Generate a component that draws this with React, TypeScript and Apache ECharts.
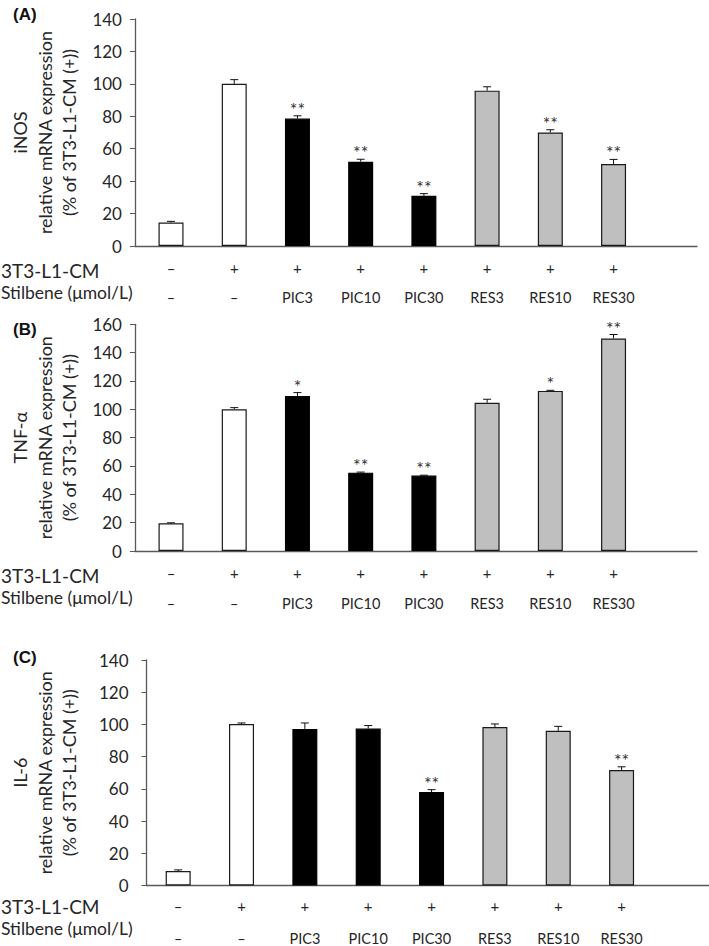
import React, { useEffect, useRef } from "react";
import * as echarts from "echarts";

// ---- data ----
const cmRow = ["–", "+", "+", "+", "+", "+", "+", "+"];
const stilbeneRow = ["–", "–", "PIC3", "PIC10", "PIC30", "RES3", "RES10", "RES30"];
const barGroup = ["white", "white", "black", "black", "black", "gray", "gray", "gray"];

const inosMean = [14.5, 100, 78.6, 52, 31, 95.8, 70, 50.6];
const inosErr = [0.7, 2.6, 1.7, 1.5, 1.3, 2.4, 1.7, 2.8];
const inosSig = ["", "", "**", "**", "**", "", "**", "**"];

const tnfMean = [19.5, 100, 109.4, 55.3, 53.2, 104.6, 113, 150];
const tnfErr = [0.4, 1.2, 2.4, 0.4, 0.3, 2.5, 0.4, 2.8];
const tnfSig = ["", "", "*", "**", "**", "", "*", "**"];

const il6Mean = [9, 100.2, 97.2, 97.4, 58, 98.4, 96, 71.7];
const il6Err = [0.7, 0.7, 3.7, 1.9, 1.5, 1.9, 2.8, 2];
const il6Sig = ["", "", "", "", "**", "", "", "**"];

const idx = [0, 1, 2, 3, 4, 5, 6, 7];
const FONT = "Lato";
const TXT = "#262626";
const AXIS = "#595959";

const panels = [
  { tag: "(A)", tagY: 15, yName: "iNOS\nrelative mRNA expression\n(% of 3T3-L1-CM (+))", mean: inosMean, err: inosErr, sig: inosSig, yMax: 140, left: 128, top: 19, height: 227, xMin: -0.57, xMax: 8.32, labelMargin: 13, nameGap: 53, r1: 22, r2: 51, t1: 270, t2: 292 },
  { tag: "(B)", tagY: 330, yName: "TNF-α\nrelative mRNA expression\n(% of 3T3-L1-CM (+))", mean: tnfMean, err: tnfErr, sig: tnfSig, yMax: 160, left: 128, top: 324.3, height: 226.7, xMin: -0.57, xMax: 8.32, labelMargin: 13, nameGap: 53, r1: 22, r2: 52, t1: 575, t2: 597 },
  { tag: "(C)", tagY: 658, yName: "IL-6\nrelative mRNA expression\n(% of 3T3-L1-CM (+))", mean: il6Mean, err: il6Err, sig: il6Sig, yMax: 140, left: 140, top: 660, height: 226.7, xMin: -0.5, xMax: 8.38, labelMargin: 18, nameGap: 65, r1: 20, r2: 53, t1: 906, t2: 928 },
];

function barStyle(g: string) {
  if (g === "black") return { color: "#000", borderColor: "#000", borderWidth: 1.2 };
  if (g === "gray") return { color: "#bfbfbf", borderColor: "#1a1a1a", borderWidth: 1.2 };
  return { color: "#fff", borderColor: "#1a1a1a", borderWidth: 1.2 };
}

export default function App() {
  const ref = useRef<HTMLDivElement>(null);
  useEffect(() => {
    if (!ref.current) return;
    const chart = echarts.init(ref.current, undefined, { renderer: "svg" });
    const grid: any[] = [];
    const xAxis: any[] = [];
    const yAxis: any[] = [];
    const series: any[] = [];
    const graphic: any[] = [];
    panels.forEach((p, pi) => {
      grid.push({ left: p.left, top: p.top, width: 569, height: p.height });
      const common = {
        type: "value",
        gridIndex: pi,
        min: p.xMin,
        max: p.xMax,
        position: "bottom",
        splitLine: { show: false },
        axisTick: { show: false },
      };
      xAxis.push({
        ...common,
        axisLine: { show: true, onZero: false, lineStyle: { color: AXIS, width: 1.3 } },
        axisLabel: {
          customValues: idx,
          formatter: (v: number) => cmRow[Math.round(v)] ?? "",
          margin: p.r1,
          verticalAlign: "middle",
          fontFamily: FONT,
          fontSize: 15,
          color: TXT,
        },
      });
      xAxis.push({
        ...common,
        axisLine: { show: false, onZero: false },
        axisLabel: {
          customValues: idx,
          formatter: (v: number) => stilbeneRow[Math.round(v)] ?? "",
          margin: p.r2,
          verticalAlign: "middle",
          fontFamily: FONT,
          fontSize: 14.5,
          color: TXT,
        },
      });
      yAxis.push({
        type: "value",
        gridIndex: pi,
        min: 0,
        max: p.yMax,
        interval: 20,
        splitLine: { show: false },
        axisLine: { show: true, onZero: false, lineStyle: { color: AXIS, width: 1.3 } },
        axisTick: { show: true, length: 5, lineStyle: { color: AXIS } },
        axisLabel: { margin: p.labelMargin, fontFamily: FONT, fontSize: 17, color: TXT },
        name: p.yName,
        nameLocation: "middle",
        nameRotate: 90,
        nameGap: p.nameGap,
        nameTextStyle: { fontFamily: FONT, fontSize: 18, lineHeight: 24.5, color: TXT, align: "center" },
      });
      series.push({
        type: "bar",
        xAxisIndex: pi * 2,
        yAxisIndex: pi,
        barWidth: 25,
        data: p.mean.map((m, i) => ({ value: [i, m], itemStyle: barStyle(barGroup[i]) })),
      });
      const sig = p.sig;
      series.push({
        type: "custom",
        xAxisIndex: pi * 2,
        yAxisIndex: pi,
        data: p.mean.map((m, i) => [i, m, p.err[i]]),
        renderItem: (params: any, api: any) => {
          const x = api.value(0);
          const m = api.value(1);
          const e = api.value(2);
          const base = api.coord([x, m]);
          const top = api.coord([x, m + e]);
          const s = sig[params.dataIndex];
          const children: any[] = [
            { type: "line", shape: { x1: base[0], y1: base[1], x2: top[0], y2: top[1] }, style: { stroke: "#111", lineWidth: 1 } },
            { type: "line", shape: { x1: top[0] - 4, y1: top[1], x2: top[0] + 4, y2: top[1] }, style: { stroke: "#111", lineWidth: 1 } },
          ];
          if (s) {
            children.push({
              type: "text",
              style: { text: s, x: top[0], y: top[1] + 2, align: "center", verticalAlign: "bottom", font: `18px ${FONT}`, fill: "#333" },
            });
          }
          return { type: "group", children };
        },
      });
      graphic.push({ type: "text", left: 13, top: p.tagY - 9, style: { text: p.tag, font: "bold 17px 'Liberation Sans'", fill: "#111" } });
      graphic.push({ type: "text", x: 1, y: p.t1, style: { text: "3T3-L1-CM", font: `19px ${FONT}`, fill: TXT, verticalAlign: "middle" } });
      graphic.push({ type: "text", x: 1, y: p.t2, style: { text: "Stilbene (μmol/L)", font: `17.5px ${FONT}`, fill: TXT, verticalAlign: "middle" } });
    });
    chart.setOption({
      animation: false,
      backgroundColor: "#fff",
      grid,
      xAxis,
      yAxis,
      series,
      graphic,
    });
    return () => chart.dispose();
  }, []);
  return <div ref={ref} style={{ position: "fixed", left: 0, top: 0, width: 709, height: 946 }} />;
}
